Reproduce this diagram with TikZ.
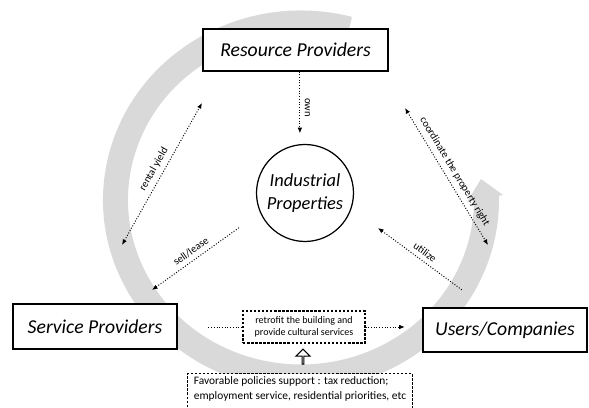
\documentclass[tikz,border=0pt]{standalone}
\usepackage{fontspec}
\setmainfont{Carlito}
\usetikzlibrary{arrows.meta,shapes.arrows}

\begin{document}
\begin{tikzpicture}[x=0.02cm,y=0.02cm,
	actor/.style={draw,fill=white,line width=0.7pt,inner sep=0pt,font=\fontsize{11.2}{13}\selectfont\itshape},
	link/.style={densely dotted,line width=0.55pt},
	tip/.style={-{Latex[length=3.2pt,width=2.6pt]}},
	pit/.style={{Latex[length=3.2pt,width=2.6pt]}-},
	both/.style={{Latex[length=3.2pt,width=2.6pt]}-{Latex[length=3.2pt,width=2.6pt]}},
	lbl/.style={font=\fontsize{6}{7}\selectfont,inner sep=2.5pt},
	note/.style={draw,fill=white,dash pattern=on 1.4pt off 0.9pt,line width=0.6pt}]
	\useasboundingbox (0,0) rectangle (589,408);
	
	% the cycle behind everything
	\draw[gray!30,line width=0.5cm] (301,208) ++(75:185.5 and 177) arc[start angle=75,end angle=362,x radius=185.5,y radius=177];
	\fill[gray!30] (467,206) -- (503,213) -- (481,229) -- cycle;
	
	\node[actor,minimum width=3.7cm,minimum height=0.84cm] (RP) at (295.5,358) {Resource Providers};
	\node[actor,circle,minimum size=1.94cm,align=center,font=\fontsize{10.5}{13}\selectfont\itshape] (IP) at (305,215) {Industrial\\Properties};
	\node[actor,minimum width=3.28cm,minimum height=0.9cm] (SP) at (95,81.5) {Service Providers};
	\node[actor,minimum width=3.28cm,minimum height=0.88cm] (UC) at (505,78) {Users/Companies};
	\node[note,minimum width=2.44cm,minimum height=0.64cm,align=center,font=\fontsize{5.7}{6.6}\selectfont] (RB) at (304,81) {retrofit the building and\\provide cultural services};
	\node[draw,single arrow,shape border rotate=90,minimum width=0.28cm,minimum height=0.3cm,single arrow head extend=0.08cm,inner sep=0pt,line width=0.6pt] (up) at (303,51) {};
	\node[note,anchor=north,align=left,inner xsep=3.5pt,inner ysep=2pt,text depth=18pt,font=\fontsize{6.5}{8.5}\selectfont] (FP) at (300,35) {Favorable policies support : tax reduction;\\employment service, residential priorities, etc};
	
	% free ends of the diagonal links
	\coordinate (ry1) at (122,163);
	\coordinate (ry2) at (202,305);
	\coordinate (sl1) at (152,118);
	\coordinate (sl2) at (240,181);
	\coordinate (cp1) at (405,300);
	\coordinate (cp2) at (488,163);
	\coordinate (ut1) at (378,180);
	\coordinate (ut2) at (462,118);
	
	\draw[link,tip,shorten >=6pt] ([xshift=2.5pt]RP.south) -- ([xshift=2.5pt]RP.south |- IP.north) node[midway,rotate=-90,anchor=south,lbl] {own};
	\draw[link,both] (ry1) -- node[lbl,sloped,above] {rental yield} (ry2);
	\draw[link,pit] (sl1) -- node[lbl,sloped,above] {sell/lease} (sl2);
	\draw[link,both] (cp1) -- node[lbl,sloped,above] {coordinate the property right} (cp2);
	\draw[link,pit] (ut1) -- node[lbl,sloped,above] {utilize} (ut2);
	\draw[link,shorten <=17.5pt] (SP.east |- RB.west) -- (RB.west);
	\draw[link,tip,shorten >=10pt] (RB.east) -- (UC.west |- RB.east);
\end{tikzpicture}
\end{document}
